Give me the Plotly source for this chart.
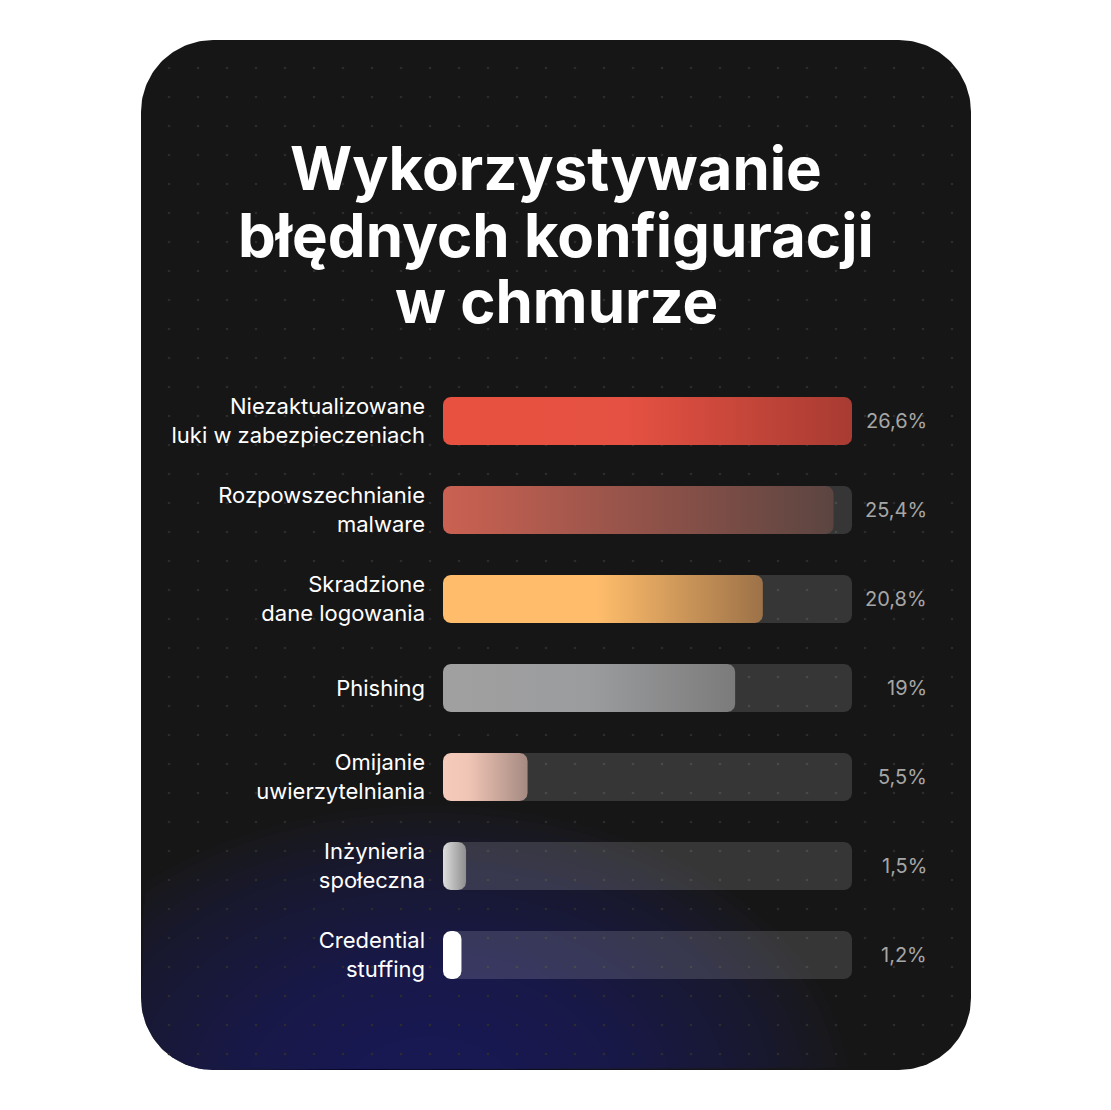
import numpy as np
import plotly.graph_objects as go

# ---------------- data ----------------
categories = [
    "Niezaktualizowane<br>luki w zabezpieczeniach",
    "Rozpowszechnianie<br>malware",
    "Skradzione<br>dane logowania",
    "Phishing",
    "Omijanie<br>uwierzytelniania",
    "Inżynieria<br>społeczna",
    "Credential<br>stuffing",
]
values = [26.6, 25.4, 20.8, 19.0, 5.5, 1.5, 1.2]
title_lines = ["Wykorzystywanie", "błędnych konfiguracji", "w chmurze"]

bar_colorscales = [
    [[0, "#e8513f"], [0.45, "#e55142"], [1, "#a83b32"]],
    [[0, "#cb6152"], [1, "#5b4541"]],
    [[0, "#ffbd6b"], [0.48, "#ffbd6b"], [1, "#9d7248"]],
    [[0, "#a0a0a0"], [0.5, "#9b9c9e"], [1, "#7b7b7b"]],
    [[0, "#f5cbbb"], [0.3, "#f0c5b5"], [1, "#a58a82"]],
    [[0, "#dedede"], [1, "#8e8e8e"]],
    [[0, "#ffffff"], [1, "#ffffff"]],
]

W, H = 1111, 1110
FONT = "Inter, Noto Sans, sans-serif"


def fmt(v):
    return f"{v:g}".replace(".", ",") + "%"


def rounded_rect(x0, x1, y0, y1, rx, ry, n=12):
    rx = min(rx, (x1 - x0) / 2)
    ry = min(ry, abs(y1 - y0) / 2)
    ylo, yhi = min(y0, y1), max(y0, y1)
    xs, ys = [], []
    for cx, cy, a0 in [(x1 - rx, yhi - ry, 0), (x0 + rx, yhi - ry, 90),
                       (x0 + rx, ylo + ry, 180), (x1 - rx, ylo + ry, 270)]:
        t = np.radians(np.linspace(a0, a0 + 90, n))
        xs.extend(cx + rx * np.cos(t))
        ys.extend(cy + ry * np.sin(t))
    xs.append(xs[0])
    ys.append(ys[0])
    return np.array(xs), np.array(ys)


fig = go.Figure()

# ---------------- card background (page pixel axes) ----------------
CX0, CX1, CY0, CY1, CR = 141, 971, 40, 1070, 72
cx, cy = rounded_rect(CX0, CX1, CY0, CY1, CR, CR, n=40)
fig.add_trace(go.Scatter(x=cx, y=cy, fill="toself", fillcolor="#161616",
                         line=dict(width=0), mode="lines", hoverinfo="skip",
                         showlegend=False, xaxis="x", yaxis="y"))


def inside_card(x, y):
    dx = np.maximum.reduce([CX0 + CR - x, np.zeros_like(x), x - (CX1 - CR)])
    dy = np.maximum.reduce([CY0 + CR - y, np.zeros_like(y), y - (CY1 - CR)])
    inb = (x >= CX0) & (x <= CX1) & (y >= CY0) & (y <= CY1)
    return inb & (dx ** 2 + dy ** 2 <= CR ** 2 + 1e-6)


bx, by = rounded_rect(CX0, CX1, CY0, CY1, CR, CR, n=200)
gcx, gcy = 430, 1095
N = 32
for k in range(N):
    f = 1 - k / N * 0.85
    erx, ery = 420 * f, 290 * f
    t = np.linspace(0, 2 * np.pi, 400)
    ex, ey = gcx + erx * np.cos(t), gcy + ery * np.sin(t)
    m1 = inside_card(ex, ey)
    m2 = ((bx - gcx) / erx) ** 2 + ((by - gcy) / ery) ** 2 <= 1
    px = np.concatenate([ex[m1], bx[m2]])
    py = np.concatenate([ey[m1], by[m2]])
    ang = np.arctan2(py - 1062, px - gcx)
    o = np.argsort(ang)
    px, py = px[o], py[o]
    fig.add_trace(go.Scatter(x=np.append(px, px[0]), y=np.append(py, py[0]),
                             fill="toself", fillcolor="rgba(43,56,127,0.042)",
                             line=dict(width=0), mode="lines", hoverinfo="skip",
                             showlegend=False, xaxis="x", yaxis="y"))

# dot grid
gx, gy = np.meshgrid(np.arange(169, 960, 29), np.arange(68, 1065, 29))
gx, gy = gx.ravel().astype(float), gy.ravel().astype(float)
m = inside_card(gx, gy)
fig.add_trace(go.Scatter(x=gx[m], y=gy[m], mode="markers",
                         marker=dict(size=2.6, color="#2c2c2e", line=dict(width=0)),
                         hoverinfo="skip", showlegend=False, xaxis="x", yaxis="y"))

# ---------------- bars ----------------
XMAX = max(values)
PX0, PX1 = 443, 852
s = (PX1 - PX0) / XMAX          # px per unit
pad = 6
ROW = 89.0                      # px per category
TOP = 421 - ROW / 2
nrow = len(categories)
BOT = TOP + ROW * nrow
half = 24 / ROW
rx_d, ry_d = 8 / s, 8 / ROW

for i, v in enumerate(values):
    tx, ty = rounded_rect(0, XMAX, i - half, i + half, rx_d, ry_d)
    fig.add_trace(go.Scatter(x=tx, y=ty, fill="toself",
                             fillcolor="rgba(255,255,255,0.14)",
                             line=dict(width=0), mode="lines", hoverinfo="skip",
                             showlegend=False, xaxis="x2", yaxis="y2"))
for i, v in enumerate(values):
    bxx, byy = rounded_rect(0, v, i - half, i + half, rx_d, ry_d)
    fig.add_trace(go.Scatter(x=bxx, y=byy, fill="toself",
                             fillgradient=dict(type="horizontal",
                                               colorscale=bar_colorscales[i]),
                             line=dict(width=0), mode="lines", hoverinfo="skip",
                             showlegend=False, xaxis="x2", yaxis="y2"))

# value labels
for i, v in enumerate(values):
    fig.add_annotation(x=929 / W, xref="paper", xanchor="right",
                       y=i, yref="y2", yanchor="middle", text=fmt(v),
                       showarrow=False,
                       font=dict(family=FONT, size=20, color="#a6a6a6"))

# title
for line, yc in zip(title_lines, [168, 235, 301]):
    fig.add_annotation(x=556 / W, xref="paper", xanchor="center",
                       y=1 - yc / H, yref="paper", yanchor="middle",
                       text=f"<b>{line}</b>", showarrow=False,
                       font=dict(family=FONT, size=60, color="#ffffff"))

fig.update_layout(
    width=W, height=H,
    margin=dict(l=0, r=0, t=0, b=0),
    paper_bgcolor="#ffffff",
    plot_bgcolor="rgba(0,0,0,0)",
    showlegend=False,
    xaxis=dict(domain=[0, 1], range=[0, W], visible=False, fixedrange=True),
    yaxis=dict(domain=[0, 1], range=[H, 0], visible=False, fixedrange=True),
    xaxis2=dict(domain=[(PX0 - pad) / W, (PX1 + pad) / W],
                range=[-pad / s, XMAX + pad / s], anchor="y2",
                showgrid=False, zeroline=False, showticklabels=False,
                fixedrange=True),
    yaxis2=dict(domain=[1 - BOT / H, 1 - TOP / H],
                range=[nrow - 0.5, -0.5], anchor="x2",
                tickvals=list(range(nrow)), ticktext=categories,
                showgrid=False, zeroline=False, ticks="",
                ticklabelstandoff=11,
                tickfont=dict(family=FONT, size=22, color="#ffffff"),
                fixedrange=True),
)

fig.write_html("out.html")
